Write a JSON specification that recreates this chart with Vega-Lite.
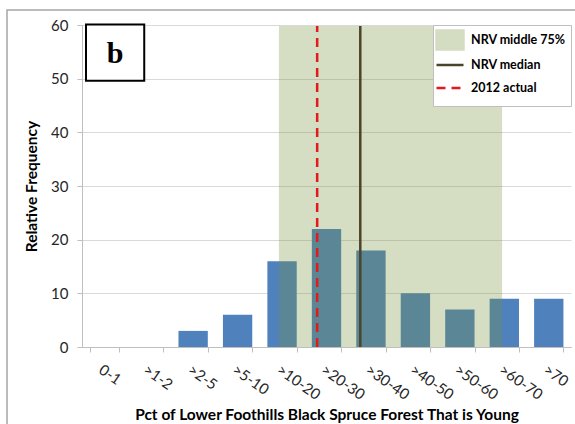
{
  "$schema": "https://vega.github.io/schema/vega-lite/v6.json",
  "width": 489,
  "height": 322,
  "autosize": "none",
  "padding": {"left": 82, "top": 25, "right": 4, "bottom": 77},
  "background": "white",
  "config": {
    "view": {"stroke": null},
    "font": "Lato",
    "axis": {"labelFont": "Lato", "titleFont": "Lato", "labelColor": "#262626", "titleColor": "#000000"}
  },
  "resolve": {"scale": {"x": "independent"}},
  "layer": [
    {
      "data": {"values": [
        {"cat": "0-1", "freq": 0},
        {"cat": ">1-2", "freq": 0},
        {"cat": ">2-5", "freq": 3},
        {"cat": ">5-10", "freq": 6},
        {"cat": ">10-20", "freq": 16},
        {"cat": ">20-30", "freq": 22},
        {"cat": ">30-40", "freq": 18},
        {"cat": ">40-50", "freq": 10},
        {"cat": ">50-60", "freq": 7},
        {"cat": ">60-70", "freq": 9},
        {"cat": ">70", "freq": 9}
      ]},
      "mark": {"type": "bar", "color": "#4F81BD"},
      "encoding": {
        "x": {
          "field": "cat", "type": "nominal", "sort": null,
          "scale": {"paddingInner": 0.34, "paddingOuter": 0.17},
          "axis": {
            "title": "Pct of Lower Foothills Black Spruce Forest That is Young",
            "titleFontSize": 15.5, "titleFontWeight": "bold", "titlePadding": 5,
            "labelAngle": 35, "labelFontSize": 15, "labelPadding": 10,
            "tickBand": "extent", "ticks": true, "tickSize": 5,
            "tickColor": "#BFBFBF", "domainColor": "#BFBFBF", "grid": false
          }
        },
        "y": {
          "field": "freq", "type": "quantitative",
          "scale": {"domain": [0, 60], "nice": false},
          "axis": {
            "title": "Relative Frequency", "titleFontSize": 15.5, "titleFontWeight": "bold", "titlePadding": 11,
            "values": [0, 10, 20, 30, 40, 50, 60],
            "labelFontSize": 15, "labelPadding": 9, "tickSize": 5,
            "tickColor": "#BFBFBF", "domainColor": "#BFBFBF",
            "grid": true, "gridColor": "#D9D9D9"
          }
        }
      }
    },
    {
      "data": {"values": [
        {"series": "NRV middle 75%", "lo": 4.43, "hi": 9.45, "bottom": 0, "top": 59.8, "kind": "band"},
        {"series": "NRV median", "lo": 6.26, "bottom": 0, "top": 59.8, "kind": "line"},
        {"series": "2012 actual", "lo": 5.29, "bottom": 0, "top": 59.8, "kind": "line"}
      ]},
      "encoding": {
        "x": {"field": "lo", "type": "quantitative", "scale": {"domain": [0, 11], "nice": false, "zero": false}, "axis": null},
        "y": {"field": "bottom", "type": "quantitative"},
        "y2": {"field": "top"},
        "color": {
          "field": "series", "type": "nominal",
          "scale": {"domain": ["NRV middle 75%", "NRV median", "2012 actual"], "range": ["#76923C", "#4A452A", "#E31A1C"]},
          "legend": {
            "title": null, "orient": "none", "legendX": 351, "legendY": 0,
            "fillColor": "white", "strokeColor": "#BFBFBF", "padding": 5,
            "labelFont": "Lato", "labelFontSize": 12.5, "labelFontWeight": "bold", "labelColor": "#000000",
            "labelOffset": 11, "symbolOffset": 2, "rowPadding": -11, "symbolSize": 306,
            "encode": {"symbols": {"update": {
              "shape": {"signal": "datum.value === 'NRV middle 75%' ? 'M-1.543,-1.086H1.543V1.086H-1.543Z' : 'M0,-0.9M0,0.9M-1.543,0H1.543'"},
              "stroke": {"signal": "datum.value === 'NRV middle 75%' ? null : (datum.value === 'NRV median' ? '#4A452A' : '#E31A1C')"},
              "strokeDash": {"signal": "datum.value === '2012 actual' ? [9, 6] : [1, 0]"},
              "strokeWidth": {"value": 2.5},
              "opacity": {"signal": "datum.value === 'NRV middle 75%' ? 0.31 : 1"},
              "size": {"value": 306}
            }}}
          }
        }
      },
      "layer": [
        {
          "transform": [{"filter": "datum.kind === 'band'"}],
          "mark": {"type": "rect", "opacity": 0.31},
          "encoding": {"x2": {"field": "hi"}}
        },
        {
          "transform": [{"filter": "datum.series === 'NRV median'"}],
          "mark": {"type": "rule", "strokeWidth": 2.5},
          "encoding": {}
        },
        {
          "transform": [{"filter": "datum.series === '2012 actual'"}],
          "mark": {"type": "rule", "strokeWidth": 2.5, "strokeDash": [9, 6]},
          "encoding": {}
        }
      ]
    },
    {
      "data": {"values": [
        {"part": "frame", "x1": -1.687, "x2": 12, "y1": -16, "y2": 62.8},
        {"part": "box", "label": "b", "x1": 0.09, "x2": 1.4, "y1": 49.6, "y2": 60.1, "xm": 0.745, "ym": 54.85}
      ]},
      "layer": [
        {
          "transform": [{"filter": "datum.part === 'frame'"}],
          "mark": {"type": "rect", "fill": null, "stroke": "#A6A6A6", "strokeWidth": 1.5},
          "encoding": {
            "x": {"field": "x1", "type": "quantitative", "scale": {"domain": [0, 11], "nice": false, "zero": false}, "axis": null},
            "x2": {"field": "x2"},
            "y": {"field": "y1", "type": "quantitative"},
            "y2": {"field": "y2"}
          }
        },
        {
          "transform": [{"filter": "datum.part === 'box'"}],
          "mark": {"type": "rect", "fill": "white", "stroke": "black", "strokeWidth": 2},
          "encoding": {
            "x": {"field": "x1", "type": "quantitative"},
            "x2": {"field": "x2"},
            "y": {"field": "y1", "type": "quantitative"},
            "y2": {"field": "y2"}
          }
        },
        {
          "transform": [{"filter": "datum.part === 'box'"}],
          "mark": {"type": "text", "font": "Liberation Serif", "fontWeight": "bold", "fontSize": 30, "color": "black", "baseline": "middle", "align": "center", "dy": 1},
          "encoding": {
            "x": {"field": "xm", "type": "quantitative"},
            "y": {"field": "ym", "type": "quantitative"},
            "text": {"field": "label"}
          }
        }
      ]
    }
  ]
}
